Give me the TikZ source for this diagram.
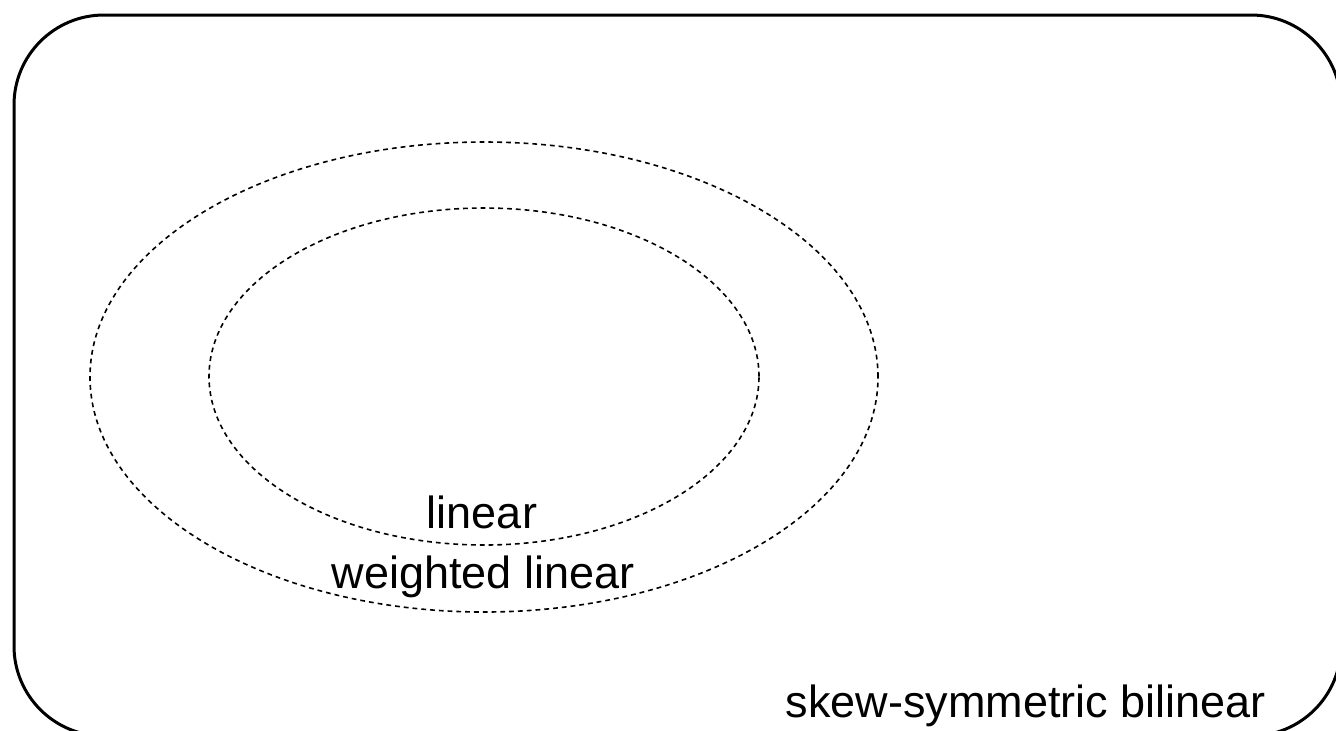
\documentclass[tikz,border=0pt]{standalone}
\usepackage{fontspec}
\setmainfont{Liberation Sans}
\usetikzlibrary{shapes.geometric}
\begin{document}
\begin{tikzpicture}[x=0.5pt,y=-0.5pt,
  setline/.style={draw, ellipse, dashed, line width=0.8pt, dash pattern=on 2.4pt off 2pt, inner sep=0pt},
  lbl/.style={font=\fontsize{22.5pt}{27pt}\selectfont, inner sep=0pt, anchor=base}]
\useasboundingbox (0,0) rectangle (1336,730);
\clip (0,0) rectangle (1336,730);
\draw[line width=1.5pt, rounded corners=45pt] (14,15) rectangle (1341,736);
\node[setline, minimum width=394pt, minimum height=235pt] (outer) at (484,377) {};
\node[setline, minimum width=275pt, minimum height=168.5pt] (inner) at (484,376.5) {};
\node[lbl] (linear) at (482,528) {linear};
\node[lbl] (weighted) at (483,588) {weighted linear};
\node[lbl, anchor=base east] (skew) at (1266,717) {skew-symmetric bilinear};
\end{tikzpicture}
\end{document}
